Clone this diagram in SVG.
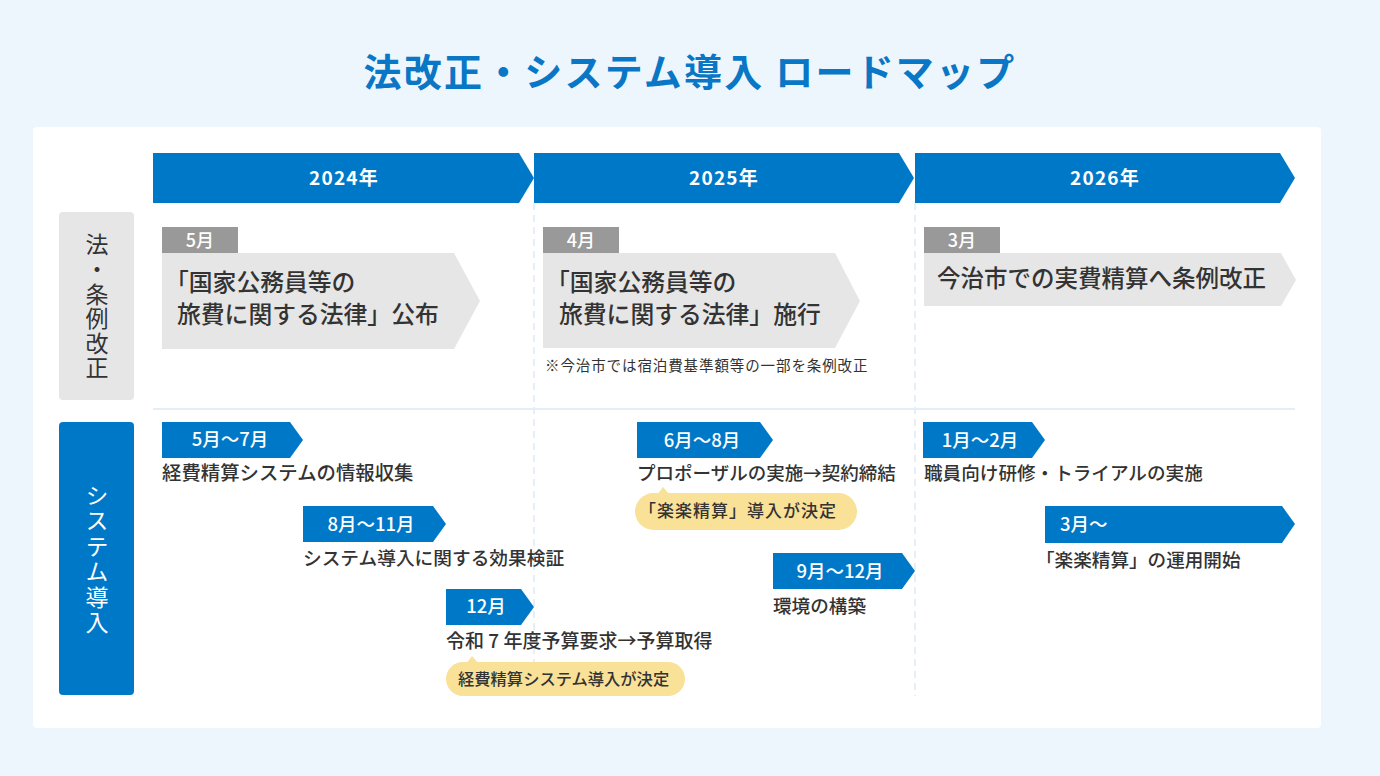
<svg xmlns="http://www.w3.org/2000/svg" width="1380" height="776" viewBox="0 0 1380 776">
<style>
text{font-family:"Noto Sans CJK JP","Noto Sans",sans-serif;}
.title{font-size:38px;font-weight:700;fill:#0A76C6;letter-spacing:2.2px;}
.year{font-size:19px;font-weight:700;fill:#fff;letter-spacing:1.2px;}
.blue{fill:#0078C8;}
.gtag{fill:#999999;}
.garrow{fill:#E6E6E6;}
.mtag{font-size:18px;fill:#fff;font-weight:500;}
.law{font-size:23.8px;fill:#333;font-weight:500;}
.note{font-size:14.5px;fill:#333;letter-spacing:0.9px;}
.ttag{font-size:18.5px;fill:#fff;font-weight:500;}
.task{font-size:18.6px;fill:#333;font-weight:500;}
.bub{fill:#F9E197;}
.btxt{font-size:16.3px;fill:#333;font-weight:500;}
.vlab{font-size:23px;letter-spacing:1.6px;}
</style>
<rect x="0" y="0" width="1380" height="776" fill="#EEF6FD"/>
<rect x="33" y="127" width="1288" height="601" rx="4" fill="#FFFFFF"/>
<text class="title" x="690" y="86" text-anchor="middle">法改正・システム導入 ロードマップ</text>

<g id="grid">
<line x1="534" y1="203" x2="534" y2="696" stroke="#D3E5F5" stroke-width="1.2" stroke-dasharray="7 5"/>
<line x1="915" y1="203" x2="915" y2="696" stroke="#D3E5F5" stroke-width="1.2" stroke-dasharray="7 5"/>
<line x1="153" y1="409" x2="1295" y2="409" stroke="#E4EEF8" stroke-width="2"/>
</g>

<g id="year-2024">
<polygon class="blue" points="153,153 519,153 534,178 519,203 153,203"/>
<text class="year" x="344" y="185" text-anchor="middle">2024年</text>
</g>
<g id="year-2025">
<polygon class="blue" points="534,153 899,153 914,178 899,203 534,203"/>
<text class="year" x="724" y="185" text-anchor="middle">2025年</text>
</g>
<g id="year-2026">
<polygon class="blue" points="915,153 1280,153 1295,178 1280,203 915,203"/>
<text class="year" x="1105" y="185" text-anchor="middle">2026年</text>
</g>

<g id="label-law">
<rect x="59" y="212" width="75" height="188" rx="4" fill="#E6E6E6"/>
<text class="vlab" x="97" y="307" fill="#333" writing-mode="vertical-rl" text-anchor="middle">法・条例改正</text>
</g>
<g id="label-system">
<rect x="59" y="422" width="75" height="273" rx="4" fill="#0078C8"/>
<text class="vlab" x="97" y="560" fill="#fff" writing-mode="vertical-rl" text-anchor="middle" style="letter-spacing:2.4px">システム導入</text>
</g>

<g id="law-2024">
<rect class="gtag" x="162" y="227" width="76" height="26"/>
<text class="mtag" x="200" y="247" text-anchor="middle">5月</text>
<polygon class="garrow" points="162,253 454,253 480,301 454,349 162,349"/>
<text class="law" x="165" y="291">「国家公務員等の</text>
<text class="law" x="177" y="323">旅費に関する法律」公布</text>
</g>
<g id="law-2025">
<rect class="gtag" x="543" y="227" width="76" height="26"/>
<text class="mtag" x="581" y="247" text-anchor="middle">4月</text>
<polygon class="garrow" points="543,253 835,253 860,301 835,348 543,348"/>
<text class="law" x="546" y="291">「国家公務員等の</text>
<text class="law" x="559" y="323">旅費に関する法律」施行</text>
<text class="note" x="545" y="371">※今治市では宿泊費基準額等の一部を条例改正</text>
</g>
<g id="law-2026">
<rect class="gtag" x="924" y="227" width="76" height="26"/>
<text class="mtag" x="962" y="247" text-anchor="middle">3月</text>
<polygon class="garrow" points="924,253 1281,253 1296,280 1281,306 924,306"/>
<text class="law" x="937" y="287" style="font-size:23.5px">今治市での実費精算へ条例改正</text>
</g>

<g id="sys-info">
<polygon class="blue" points="162,422 290,422 303,440 290,458 162,458"/>
<text class="ttag" x="230" y="446" text-anchor="middle">5月〜7月</text>
<text class="task" x="162" y="480" style="font-size:19.4px">経費精算システムの情報収集</text>
</g>
<g id="sys-verify">
<polygon class="blue" points="303,506 433,506 446,524 433,542 303,542"/>
<text class="ttag" x="371" y="531" text-anchor="middle">8月〜11月</text>
<text class="task" x="303" y="565" style="font-size:18.7px">システム導入に関する効果検証</text>
</g>
<g id="sys-budget">
<polygon class="blue" points="446,589 521,589 534,607 521,625 446,625"/>
<text class="ttag" x="486" y="613" text-anchor="middle">12月</text>
<text class="task" x="446" y="648" style="font-size:19px">令和 7 年度予算要求→予算取得</text>
<polygon class="bub" points="466,664 472,656 479,664"/>
<rect class="bub" x="446" y="662" width="239" height="34" rx="17"/>
<text class="btxt" x="458" y="685">経費精算システム導入が決定</text>
</g>
<g id="sys-proposal">
<polygon class="blue" points="637,422 760,422 773,440 760,458 637,458"/>
<text class="ttag" x="702" y="447" text-anchor="middle">6月〜8月</text>
<text class="task" x="637" y="480" style="font-size:18.5px">プロポーザルの実施→契約締結</text>
<polygon class="bub" points="657,495 663,487 670,495"/>
<rect class="bub" x="635" y="493" width="222" height="37" rx="18.5"/>
<text class="btxt" x="639" y="517" style="font-size:17px;letter-spacing:1px">「楽楽精算」導入が決定</text>
</g>
<g id="sys-env">
<polygon class="blue" points="773,553 902,553 915,571 902,589 773,589"/>
<text class="ttag" x="840" y="578" text-anchor="middle">9月〜12月</text>
<text class="task" x="773" y="613">環境の構築</text>
</g>
<g id="sys-training">
<polygon class="blue" points="923,422 1032,422 1045,440 1032,458 923,458"/>
<text class="ttag" x="980" y="447" text-anchor="middle">1月〜2月</text>
<text class="task" x="924" y="480">職員向け研修・トライアルの実施</text>
</g>
<g id="sys-operation">
<polygon class="blue" points="1045,506 1282,506 1295,524 1282,543 1045,543"/>
<text class="ttag" x="1060" y="531">3月〜</text>
<text class="task" x="1036" y="567">「楽楽精算」の運用開始</text>
</g>
</svg>
